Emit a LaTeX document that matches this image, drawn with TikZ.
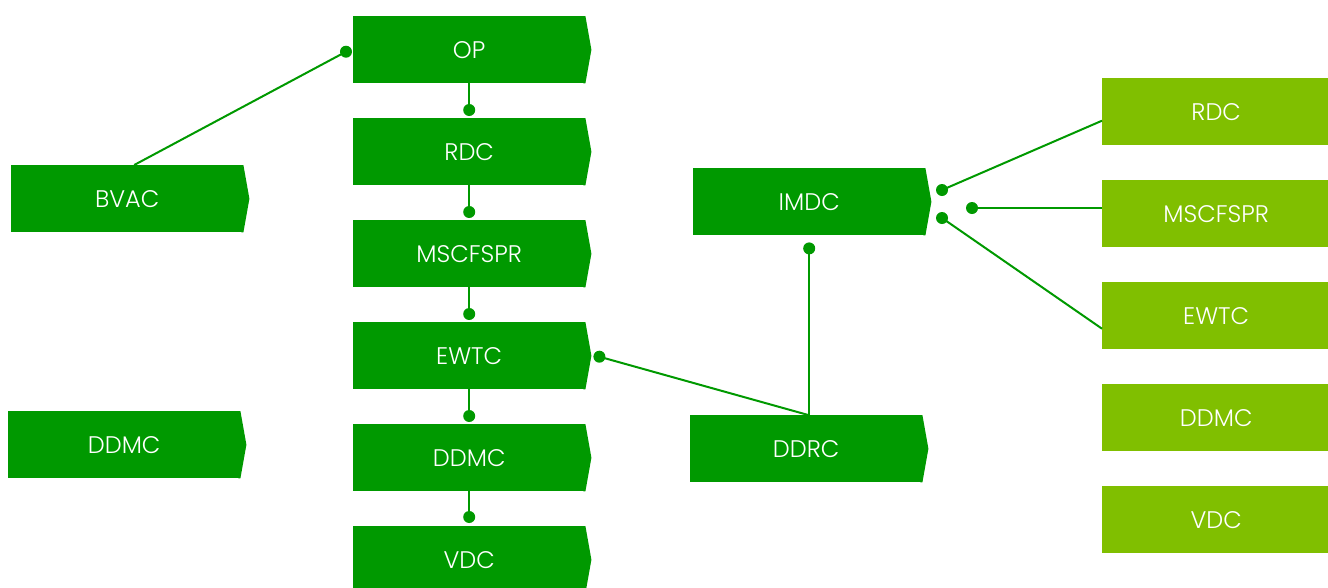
\documentclass[tikz,border=0pt]{standalone}
\usepackage{fontspec}
\setmainfont{Poppins}[UprightFont=* Light]
\usetikzlibrary{calc}
\definecolor{dkgreen}{HTML}{009900}
\definecolor{ltgreen}{HTML}{80BF00}
\tikzset{
  x=1pt, y=-1pt,
  stepbox/.style={fill=dkgreen, text=white, minimum width=232pt, minimum height=67pt,
    inner sep=0pt, anchor=north west, font=\fontsize{24}{28}\selectfont},
  sidebox/.style={fill=ltgreen, text=white, minimum width=228pt, minimum height=67pt,
    inner sep=0pt, anchor=north west, font=\fontsize{24}{28}\selectfont},
  link/.style={draw=dkgreen, line width=2pt},
  dot/.style={fill=dkgreen},
}
\begin{document}
\begin{tikzpicture}
\useasboundingbox (0,0) rectangle (1328,587);
\clip (0,0) rectangle (1328,587);

% main column
\node[stepbox] (op)   at (353,16)  {OP};
\node[stepbox] (rdc)  at (353,118) {RDC};
\node[stepbox] (msc)  at (353,220) {MSCFSPR};
\node[stepbox] (ewtc) at (353,322) {EWTC};
\node[stepbox] (ddmc) at (353,424) {DDMC};
\node[stepbox] (vdc)  at (353,526) {VDC};

% left column
\node[stepbox] (bvac)  at (11,165) {BVAC};
\node[stepbox] (ddmcl) at (8,411)  {DDMC};

% middle pair
\node[stepbox] (imdc) at (693,168) {IMDC};
\node[stepbox] (ddrc) at (690,415) {DDRC};

% right column
\node[sidebox] (rdcr)  at (1102,78)  {RDC};
\node[sidebox] (mscr)  at (1102,180) {MSCFSPR};
\node[sidebox] (ewtcr) at (1102,282) {EWTC};
\node[sidebox] (ddmcr) at (1102,384) {DDMC};
\node[sidebox] (vdcr)  at (1102,486) {VDC};

% pointed right ends of the step boxes (overlapping the box to avoid a seam)
\foreach \n in {op,rdc,msc,ewtc,ddmc,vdc,bvac,ddmcl,imdc,ddrc}
  \fill[dkgreen] ($(\n.north east)+(-2,0)$) -- (\n.north east) -- ($(\n.east)+(6,0)$)
    -- (\n.south east) -- ($(\n.south east)+(-2,0)$) -- cycle;

% connector end points
\coordinate (pop)   at ($(op.west)+(-7,2)$);
\coordinate (prdc)  at ($(rdc.north)+(0,-8)$);
\coordinate (pmsc)  at ($(msc.north)+(0,-8)$);
\coordinate (pewtc) at ($(ewtc.north)+(0,-8)$);
\coordinate (pddmc) at ($(ddmc.north)+(0,-8)$);
\coordinate (pvdc)  at ($(vdc.north)+(0,-9)$);
\coordinate (pewr)  at ($(ewtc.east)+(14,1)$);
\coordinate (pimd)  at ($(imdc.south)+(0,13)$);
\coordinate (pi1)   at (942,190);
\coordinate (pi2)   at (972,208);
\coordinate (pi3)   at (942,218);

% connectors
\draw[link] (pop) -- ([xshift=7pt]bvac.north);
\draw[link] (op.south) -- (prdc);
\draw[link] (rdc.south) -- (pmsc);
\draw[link] (msc.south) -- (pewtc);
\draw[link] (ewtc.south) -- (pddmc);
\draw[link] (ddmc.south) -- (pvdc);
\draw[link] (pewr) -- ([xshift=2pt]ddrc.north);
\draw[link] (pimd) -- (pimd |- ddrc.north);
\draw[link] (pi1) -- ([yshift=-9pt]rdcr.west);
\draw[link] (pi2) -- (pi2 -| mscr.west);
\draw[link] (pi3) -- ([yshift=-13pt]ewtcr.west);

% dots
\foreach \p in {pop,prdc,pmsc,pewtc,pddmc,pvdc,pewr,pimd,pi1,pi2,pi3}
  \fill[dot] (\p) circle (6);
\end{tikzpicture}
\end{document}
